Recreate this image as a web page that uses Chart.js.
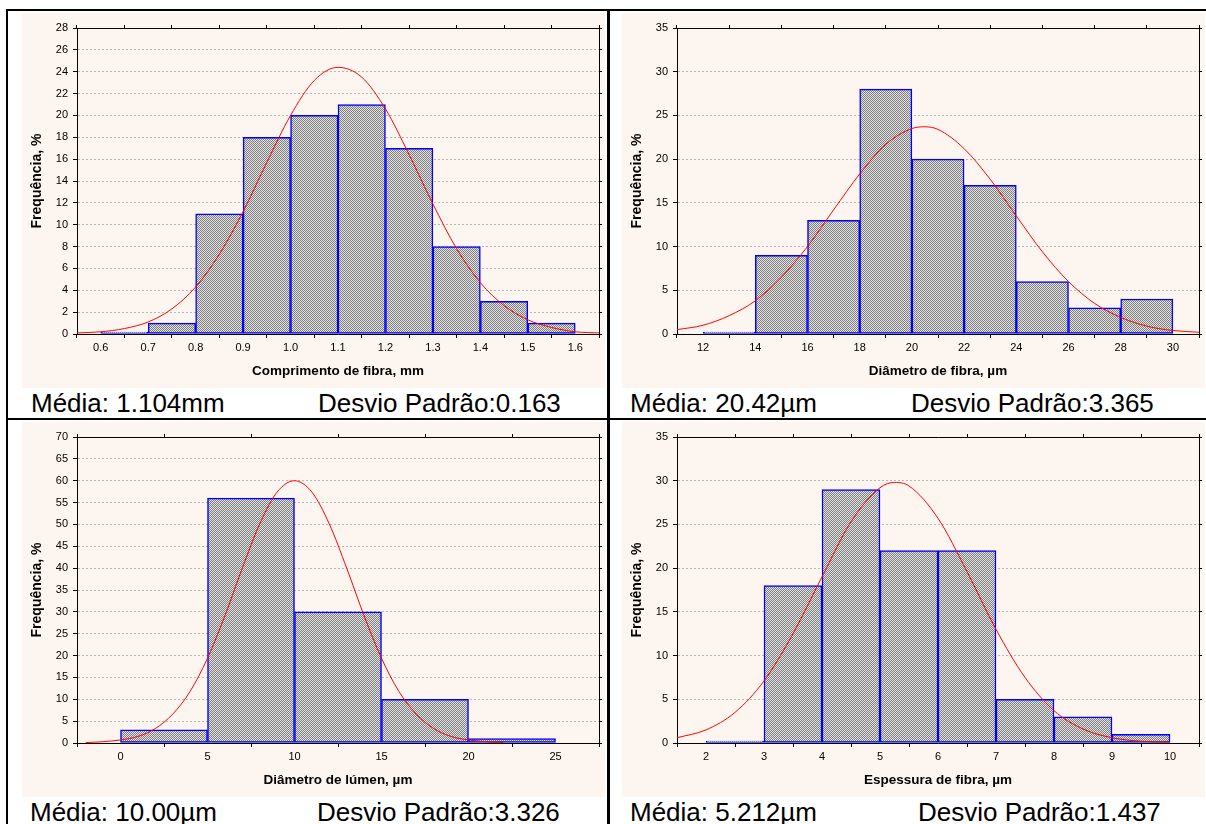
<!DOCTYPE html>
<html lang="pt">
<head>
<meta charset="utf-8">
<title>Histogramas de fibra</title>
<script src="https://cdn.jsdelivr.net/npm/chart.js@4.4.1/dist/chart.umd.min.js"></script>
<style>
  body { margin:0; background:#fff; width:1206px; height:824px; position:relative; overflow:hidden;
         font-family: Arial, "Liberation Sans", sans-serif; }
  .line { position:absolute; background:#000; }
  .chart { position:absolute; background:#fdf6f0; }
  .stats { position:absolute; font-size:26px; line-height:26px; white-space:nowrap; color:#000; }
</style>
</head>
<body>
<div class="line" style="left:6px;top:9px;width:1200px;height:2px"></div>
<div class="line" style="left:6px;top:9px;width:2px;height:815px"></div>
<div class="line" style="left:607px;top:9px;width:3px;height:815px"></div>
<div class="line" style="left:6px;top:418px;width:1200px;height:2px"></div>

<canvas id="c1" class="chart" width="583" height="375" style="left:22px;top:13px"></canvas>
<canvas id="c2" class="chart" width="583" height="375" style="left:622px;top:13px"></canvas>
<canvas id="c3" class="chart" width="583" height="375" style="left:22px;top:422px"></canvas>
<canvas id="c4" class="chart" width="583" height="375" style="left:622px;top:422px"></canvas>

<div class="stats" style="left:31px;top:390px">Média: 1.104mm</div>
<div class="stats" style="left:318px;top:390px">Desvio Padrão:0.163</div>
<div class="stats" style="left:630px;top:390px">Média: 20.42µm</div>
<div class="stats" style="left:911px;top:390px">Desvio Padrão:3.365</div>
<div class="stats" style="left:30px;top:799px">Média: 10.00µm</div>
<div class="stats" style="left:317px;top:799px">Desvio Padrão:3.326</div>
<div class="stats" style="left:630px;top:799px">Média: 5.212µm</div>
<div class="stats" style="left:918px;top:799px">Desvio Padrão:1.437</div>

<script>
const FONT = 'Arial, "Liberation Sans", sans-serif';
const el = (id) => document.getElementById(id);

// COMPRIMENTO DE FIBRA (mm)
const compCentros = [0.65, 0.75, 0.85, 0.95, 1.05, 1.15, 1.25, 1.35, 1.45, 1.55];
const compFreq = [0, 1, 11, 18, 20, 21, 17, 8, 3, 1];
const compTicksX = [0.6, 0.7, 0.8, 0.9, 1.0, 1.1, 1.2, 1.3, 1.4, 1.5, 1.6];
const compTicksY = [0, 2, 4, 6, 8, 10, 12, 14, 16, 18, 20, 22, 24, 26, 28];
const compCurvaX = [0.55, 0.6, 0.65, 0.7, 0.75, 0.8, 0.85, 0.9, 0.95, 1.0, 1.05, 1.1, 1.15, 1.2, 1.25, 1.3, 1.35, 1.4, 1.45, 1.5, 1.55, 1.6, 1.65];
const compCurvaY = [0.1, 0.2, 0.5, 1.1, 2.3, 4.3, 7.3, 11.2, 15.7, 20.0, 23.2, 24.4, 23.5, 20.6, 16.4, 11.9, 7.8, 4.7, 2.6, 1.3, 0.6, 0.2, 0.1];

// DIAMETRO DE FIBRA (µm)
const diamCentros = [13, 15, 17, 19, 21, 23, 25, 27, 29];
const diamFreq = [0, 9, 13, 28, 20, 17, 6, 3, 4];
const diamTicksX = [12, 14, 16, 18, 20, 22, 24, 26, 28, 30];
const diamTicksY = [0, 5, 10, 15, 20, 25, 30, 35];
const diamCurvaX = [11, 12, 13, 14, 15, 16, 17, 18, 19, 20, 20.5, 21, 22, 23, 24, 25, 26, 27, 28, 29, 30, 31];
const diamCurvaY = [0.5, 1.0, 2.1, 3.8, 6.5, 10.0, 14.2, 18.3, 21.7, 23.5, 23.7, 23.4, 21.2, 17.7, 13.5, 9.4, 6.0, 3.5, 1.9, 0.9, 0.4, 0.2];

// DIAMETRO DE LUMEN (µm)
const lumCentros = [2.5, 7.5, 12.5, 17.5, 22.5];
const lumFreq = [3, 56, 30, 10, 1];
const lumTicksX = [0, 5, 10, 15, 20, 25];
const lumTicksY = [0, 5, 10, 15, 20, 25, 30, 35, 40, 45, 50, 55, 60, 65, 70];
const lumCurvaX = [-2, -1, 0, 1, 2, 3, 4, 5, 6, 7, 8, 9, 10, 11, 12, 13, 14, 15, 16, 17, 18, 19, 20, 21, 22];
const lumCurvaY = [0.1, 0.3, 0.7, 1.5, 3.3, 6.6, 11.8, 19.4, 29.1, 40.0, 50.1, 57.4, 60.0, 57.4, 50.1, 40.0, 29.1, 19.4, 11.8, 6.6, 3.3, 1.5, 0.7, 0.3, 0.1];

// ESPESSURA DE FIBRA (µm)
const espCentros = [2.5, 3.5, 4.5, 5.5, 6.5, 7.5, 8.5, 9.5];
const espFreq = [0, 18, 29, 22, 22, 5, 3, 1];
const espTicksX = [2, 3, 4, 5, 6, 7, 8, 9, 10];
const espTicksY = [0, 5, 10, 15, 20, 25, 30, 35];
const espCurvaX = [1.5, 2, 2.5, 3, 3.5, 4, 4.5, 5, 5.25, 5.5, 6, 6.5, 7, 7.5, 8, 8.5, 9, 9.5, 10];
const espCurvaY = [0.6, 1.5, 3.5, 7.1, 12.5, 19.0, 25.3, 29.2, 29.8, 29.4, 25.7, 19.6, 13.0, 7.5, 3.7, 1.6, 0.6, 0.2, 0.1];

// TRAMA DAS BARRAS (xadrez fino, cinza claro)
function hachura(ctx) {
    const tile = document.createElement("canvas");
    tile.width = 2; tile.height = 2;
    const g = tile.getContext("2d");
    g.fillStyle = "#e6e6e6";
    g.fillRect(0, 0, 2, 2);
    g.fillStyle = "#7c7c7c";
    g.fillRect(1, 0, 1, 1);
    g.fillRect(0, 1, 1, 1);
    return ctx.createPattern(tile, "repeat");
}

function histograma(id, cfg) {
    const canvas = el(id);
    const setTicks = (arr) => (s) => { s.ticks = arr.map(v => ({ value: v })); };
    const tickFont = { family: FONT, size: 11 };

    return new Chart(canvas, {
        type: "bar",
        data: {
            datasets: [
                {
                    type: "line",
                    data: cfg.curvaX.map((x, i) => ({ x, y: cfg.curvaY[i] })),
                    borderColor: "#ff0000", borderWidth: 1,
                    pointRadius: 0, fill: false, cubicInterpolationMode: "monotone",
                    order: 1
                },
                {
                    type: "bar",
                    data: cfg.centros.map((x, i) => ({ x, y: cfg.freq[i] })),
                    backgroundColor: hachura(canvas.getContext("2d")),
                    borderColor: "#0000ff", borderWidth: 1.5, borderSkipped: false,
                    barPercentage: 1, categoryPercentage: 1, minBarLength: 2,
                    order: 2
                }
            ]
        },
        options: {
            responsive: false, animation: false, events: [],
            layout: { padding: { top: 15, right: 6, left: 0, bottom: 0 } },
            plugins: { legend: { display: false }, tooltip: { enabled: false } },
            scales: {
                x: {
                    type: "linear", min: cfg.xMin, max: cfg.xMax, offset: false,
                    afterBuildTicks: setTicks(cfg.ticksX),
                    afterFit: (s) => { s.height = 54; },
                    ticks: { color: "#000", font: tickFont, padding: 3, maxRotation: 0, autoSkip: false,
                             callback: (v) => Number(v).toFixed(cfg.dec) },
                    grid: { drawOnChartArea: false, drawTicks: true, tickLength: 4, tickColor: "#000" },
                    border: { color: "#000", width: 1 },
                    title: { display: true, text: cfg.tituloX, color: "#000",
                             font: { family: FONT, size: 13.5, weight: "bold" }, padding: { top: 0, bottom: 9 } }
                },
                y: {
                    min: 0, max: cfg.yMax,
                    afterBuildTicks: setTicks(cfg.ticksY),
                    afterFit: (s) => { s.width = 55; },
                    ticks: { color: "#000", font: tickFont, padding: 5, autoSkip: false },
                    grid: { color: "#b8b8b8", lineWidth: 1, drawTicks: true, tickLength: 4,
                            tickColor: "#000", tickBorderDash: [] },
                    border: { color: "#000", width: 1, dash: [2, 2] },
                    title: { display: true, text: "Frequência, %", color: "#000",
                             font: { family: FONT, size: 14, weight: "bold" }, padding: { top: 7, bottom: 0 } }
                },
                x2: {
                    type: "linear", position: "top", min: cfg.xMin, max: cfg.xMax, offset: false,
                    afterBuildTicks: setTicks(cfg.ticksX),
                    afterFit: (s) => { s.height = 0; },
                    ticks: { display: false },
                    grid: { drawOnChartArea: false, drawTicks: true, tickLength: 3, tickColor: "#000" },
                    border: { color: "#000", width: 1 }
                },
                y2: {
                    position: "right", min: 0, max: cfg.yMax,
                    afterBuildTicks: setTicks(cfg.ticksY),
                    afterFit: (s) => { s.width = 0; },
                    ticks: { display: false },
                    grid: { drawOnChartArea: false, drawTicks: true, tickLength: 3, tickColor: "#000" },
                    border: { color: "#000", width: 1 }
                }
            }
        }
    });
}

histograma("c1", { centros: compCentros, freq: compFreq, ticksX: compTicksX, ticksY: compTicksY,
    curvaX: compCurvaX, curvaY: compCurvaY, xMin: 0.55, xMax: 1.65, yMax: 28, dec: 1,
    tituloX: "Comprimento de fibra, mm" });
histograma("c2", { centros: diamCentros, freq: diamFreq, ticksX: diamTicksX, ticksY: diamTicksY,
    curvaX: diamCurvaX, curvaY: diamCurvaY, xMin: 11, xMax: 31, yMax: 35, dec: 0,
    tituloX: "Diâmetro de fibra, µm" });
histograma("c3", { centros: lumCentros, freq: lumFreq, ticksX: lumTicksX, ticksY: lumTicksY,
    curvaX: lumCurvaX, curvaY: lumCurvaY, xMin: -2.5, xMax: 27.5, yMax: 70, dec: 0,
    tituloX: "Diâmetro de lúmen, µm" });
histograma("c4", { centros: espCentros, freq: espFreq, ticksX: espTicksX, ticksY: espTicksY,
    curvaX: espCurvaX, curvaY: espCurvaY, xMin: 1.5, xMax: 10.5, yMax: 35, dec: 0,
    tituloX: "Espessura de fibra, µm" });
</script>
</body>
</html>
